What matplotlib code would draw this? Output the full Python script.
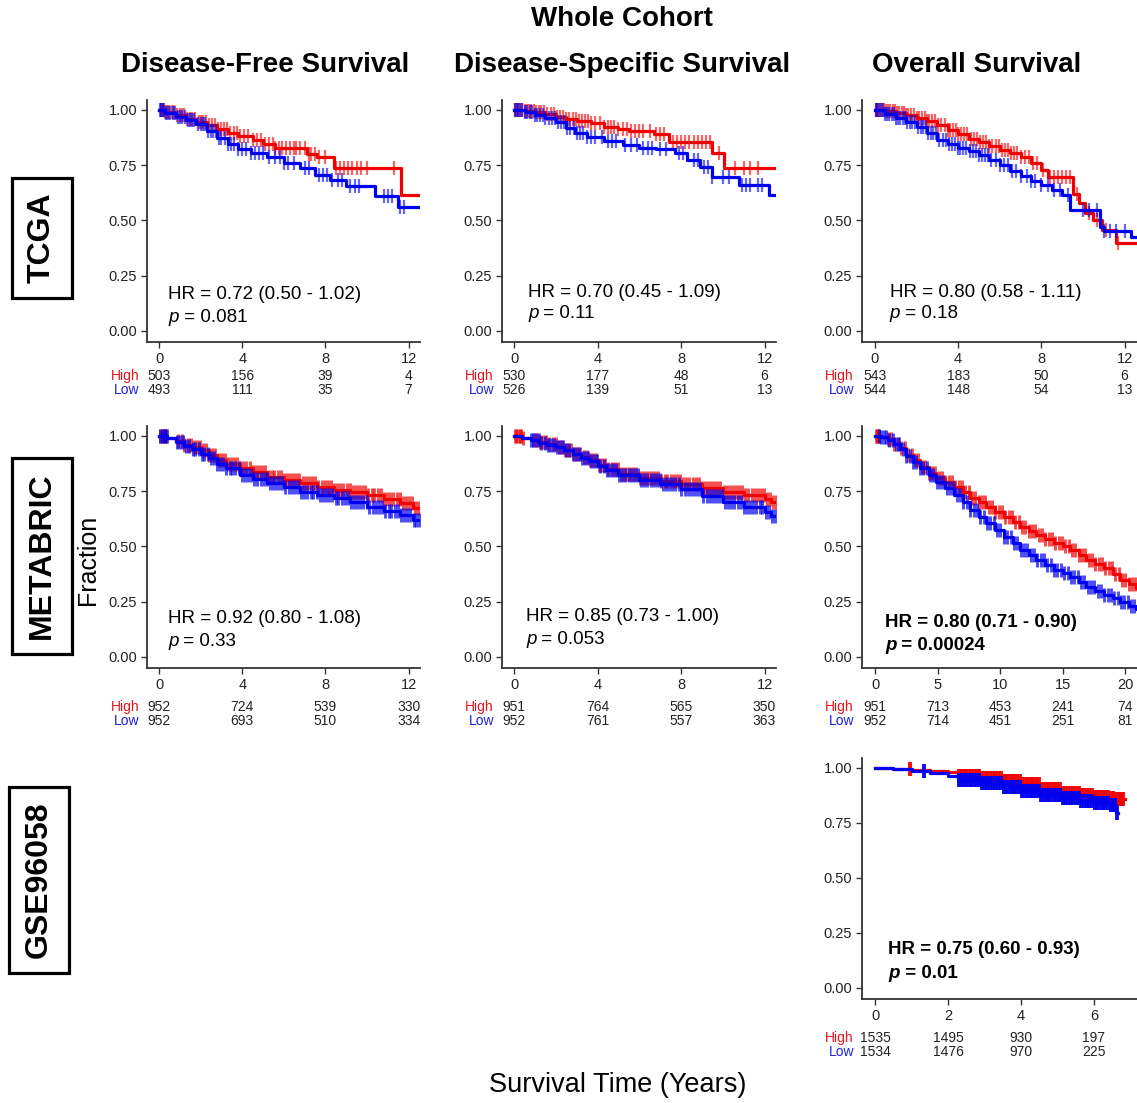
import numpy as np
import matplotlib
matplotlib.use("Agg")
import matplotlib.pyplot as plt
from matplotlib.transforms import blended_transform_factory

# ======================= DATA =======================
# ---- TCGA, Disease-Free Survival ----
tcga_dfs_high_t = [0, 0.3, 0.8, 1.3, 1.8, 2.3, 2.8, 3.3, 3.8, 4.5, 5.0, 5.6, 7.1, 7.6, 8.4, 11.65, 12.6]
tcga_dfs_high_s = [1.0, 0.99, 0.975, 0.96, 0.945, 0.93, 0.915, 0.895, 0.88, 0.865, 0.845, 0.83, 0.80, 0.785, 0.737, 0.615, 0.615]
tcga_dfs_high_c = [0.1, 0.15, 0.2, 0.3, 0.4, 0.5, 0.6, 0.7, 0.85, 1.0, 1.1, 1.2, 1.35, 1.5, 1.6, 1.75, 1.9, 2.0,
                   2.1, 2.25, 2.4, 2.55, 2.7, 2.85, 3.0, 3.1, 3.25, 3.4, 3.6, 3.75, 3.9, 4.1, 4.3, 4.5, 4.7, 4.9,
                   5.1, 5.3, 5.5, 5.6, 5.75, 5.9, 6.1, 6.3, 6.5, 6.6, 6.8, 7.0, 7.2, 7.3, 7.5, 7.7, 8.0, 8.5,
                   8.7, 8.9, 9.1, 9.3, 9.5, 9.7, 10.0, 11.3]
tcga_dfs_low_t = [0, 0.3, 0.8, 1.3, 1.8, 2.3, 2.8, 3.3, 3.8, 4.4, 5.2, 6.0, 6.8, 7.5, 8.2, 9.0, 10.4, 11.5, 12.6]
tcga_dfs_low_s = [1.0, 0.985, 0.97, 0.955, 0.935, 0.905, 0.875, 0.845, 0.825, 0.805, 0.785, 0.76, 0.737, 0.705,
                  0.685, 0.655, 0.61, 0.56, 0.56]
tcga_dfs_low_c = [0.05, 0.1, 0.2, 0.25, 0.35, 0.45, 0.55, 0.65, 0.75, 0.9, 1.0, 1.1, 1.25, 1.4, 1.5, 1.6, 1.7,
                  1.85, 2.0, 2.1, 2.2, 2.35, 2.5, 2.6, 2.75, 2.9, 3.0, 3.15, 3.3, 3.45, 3.6, 3.8, 4.0, 4.2, 4.4,
                  4.6, 4.8, 5.0, 5.3, 5.6, 5.8, 6.0, 6.2, 6.5, 7.0, 7.2, 7.7, 7.9, 8.1, 8.3, 8.6, 8.8, 9.2, 9.4,
                  9.6, 10.8, 11.0, 11.2, 11.6, 11.8]

# ---- TCGA, Disease-Specific Survival ----
tcga_dss_high_t = [0, 0.5, 1.0, 1.5, 2.0, 2.5, 3.0, 3.7, 4.3, 5.0, 5.5, 6.7, 7.4, 9.5, 10.05, 12.55]
tcga_dss_high_s = [1.0, 0.995, 0.99, 0.98, 0.97, 0.96, 0.95, 0.94, 0.924, 0.912, 0.905, 0.89, 0.857, 0.804, 0.736, 0.736]
tcga_dss_high_c = [0.05, 0.1, 0.2, 0.3, 0.4, 0.5, 0.6, 0.7, 0.8, 0.95, 1.05, 1.2, 1.3, 1.45, 1.6, 1.75, 1.9,
                   2.05, 2.2, 2.35, 2.5, 2.65, 2.8, 2.95, 3.1, 3.25, 3.4, 3.55, 3.7, 3.9, 4.1, 4.3, 4.5, 4.65,
                   4.8, 5.0, 5.2, 5.4, 5.6, 5.8, 6.0, 6.2, 6.5, 6.8, 7.0, 7.2, 7.6, 7.8, 8.0, 8.2, 8.4, 8.6,
                   8.8, 9.0, 9.2, 9.4, 9.8, 10.6, 11.0, 11.3, 11.7]
tcga_dss_low_t = [0, 0.5, 1.0, 1.5, 2.0, 2.5, 2.9, 3.5, 4.3, 5.2, 6.0, 6.8, 7.7, 8.3, 8.9, 9.5, 10.8, 12.2, 12.55]
tcga_dss_low_s = [1.0, 0.99, 0.975, 0.965, 0.945, 0.92, 0.895, 0.879, 0.86, 0.84, 0.83, 0.822, 0.804, 0.774,
                  0.743, 0.698, 0.66, 0.615, 0.615]
tcga_dss_low_c = [0.05, 0.15, 0.2, 0.3, 0.4, 0.5, 0.6, 0.75, 0.85, 1.0, 1.1, 1.25, 1.4, 1.5, 1.65, 1.8, 1.95,
                  2.1, 2.25, 2.4, 2.55, 2.7, 2.85, 3.0, 3.15, 3.3, 3.5, 3.7, 3.9, 4.2, 4.5, 4.7, 4.9, 5.3, 5.6,
                  5.9, 6.2, 6.4, 6.6, 7.0, 7.3, 7.9, 8.1, 8.6, 8.8, 9.1, 9.3, 9.5, 10.0, 10.3, 10.9, 11.1,
                  11.3, 11.7, 11.9]

# ---- TCGA, Overall Survival ----
tcga_os_high_t = [0, 0.5, 1.0, 1.5, 2.0, 2.5, 3.0, 3.5, 4.0, 4.5, 5.0, 5.5, 6.0, 6.5, 7.0, 7.5, 8.0, 8.3, 9.5,
                  9.8, 10.1, 10.5, 10.9, 11.6, 12.8]
tcga_os_high_s = [1.0, 0.995, 0.985, 0.975, 0.965, 0.95, 0.93, 0.91, 0.89, 0.87, 0.855, 0.835, 0.82, 0.805,
                  0.785, 0.76, 0.73, 0.698, 0.62, 0.578, 0.532, 0.50, 0.457, 0.397, 0.397]
tcga_os_high_c = [0.05, 0.1, 0.15, 0.25, 0.35, 0.45, 0.55, 0.65, 0.75, 0.85, 0.95, 1.05, 1.15, 1.3, 1.4, 1.5,
                  1.6, 1.75, 1.9, 2.0, 2.1, 2.25, 2.4, 2.5, 2.6, 2.75, 2.9, 3.05, 3.2, 3.35, 3.5, 3.6, 3.75,
                  3.9, 4.0, 4.15, 4.3, 4.45, 4.6, 4.75, 4.9, 5.05, 5.2, 5.35, 5.5, 5.65, 5.8, 5.95, 6.1, 6.25,
                  6.4, 6.55, 6.7, 6.85, 7.0, 7.2, 7.4, 7.6, 7.8, 8.1, 8.4, 8.6, 8.8, 9.0, 9.2, 9.4, 9.7, 10.3,
                  10.7, 11.1, 11.7]
tcga_os_low_t = [0, 0.5, 1.0, 1.5, 2.0, 2.5, 3.0, 3.5, 4.0, 4.5, 5.0, 5.5, 6.0, 6.5, 7.0, 7.5, 8.0, 8.5, 9.0,
                 9.4, 10.8, 11.0, 12.3, 12.8]
tcga_os_low_s = [1.0, 0.98, 0.965, 0.945, 0.925, 0.895, 0.865, 0.845, 0.83, 0.812, 0.795, 0.775, 0.75, 0.725,
                 0.70, 0.68, 0.66, 0.64, 0.615, 0.548, 0.472, 0.45, 0.427, 0.427]
tcga_os_low_c = [0.05, 0.1, 0.2, 0.3, 0.4, 0.5, 0.6, 0.7, 0.8, 0.9, 1.0, 1.1, 1.2, 1.35, 1.45, 1.55, 1.7, 1.8,
                 1.95, 2.05, 2.2, 2.3, 2.45, 2.55, 2.7, 2.8, 2.95, 3.1, 3.25, 3.4, 3.55, 3.7, 3.85, 4.0, 4.1,
                 4.25, 4.4, 4.55, 4.7, 4.85, 5.0, 5.15, 5.3, 5.45, 5.6, 5.8, 6.0, 6.2, 6.4, 6.6, 6.8, 7.0, 7.3,
                 7.5, 7.7, 8.0, 8.3, 8.6, 8.9, 9.3, 10.0, 10.3, 10.7, 11.0, 11.3, 11.6, 12.0]

# ---- METABRIC, Disease-Free Survival ----
metabric_dfs_high_t = [0, 0.4, 0.8, 1.2, 1.6, 2.0, 2.4, 2.8, 3.2, 3.9, 4.5, 5.2, 6.0, 6.8, 7.6, 8.4, 9.2, 10.0,
                       10.8, 11.6, 12.2, 12.6]
metabric_dfs_high_s = [1.0, 0.99, 0.975, 0.96, 0.95, 0.937, 0.915, 0.891, 0.875, 0.854, 0.835, 0.816, 0.80,
                       0.786, 0.77, 0.756, 0.745, 0.733, 0.715, 0.695, 0.675, 0.675]
metabric_dfs_high_c = [0.05, 0.13, 0.2, 0.27, 0.34, 0.92, 1.08, 1.21, 1.37, 1.52, 1.66, 1.83, 1.97, 2.12, 2.26,
                       2.41, 2.57, 2.7, 2.86, 3.01, 3.15, 3.3, 3.46, 3.6, 3.77, 3.91, 4.06, 4.2, 4.36, 4.52,
                       4.65, 4.81, 4.96, 5.1, 5.27, 5.41, 5.55, 5.72, 5.86, 6.01, 6.17, 6.3, 6.46, 6.61, 6.75,
                       6.92, 7.06, 7.2, 7.37, 7.51, 7.66, 7.82, 7.96, 8.12, 8.27, 8.41, 8.57, 8.71, 8.87, 9.02,
                       9.16, 9.32, 9.46, 9.62, 9.77, 9.91, 10.07, 10.22, 10.36, 10.52, 10.67, 10.82, 10.97,
                       11.11, 11.27, 11.42, 11.57, 11.72, 11.86, 12.02, 12.17, 12.31, 12.46]
metabric_dfs_low_t = [0, 0.4, 0.8, 1.2, 1.6, 2.0, 2.4, 2.8, 3.2, 3.9, 4.5, 5.2, 6.0, 6.8, 7.6, 8.4, 9.2, 10.0,
                      10.8, 11.6, 12.2, 12.6]
metabric_dfs_low_s = [1.0, 0.99, 0.972, 0.955, 0.94, 0.92, 0.898, 0.875, 0.855, 0.824, 0.805, 0.786, 0.767,
                      0.748, 0.733, 0.718, 0.70, 0.68, 0.66, 0.643, 0.62, 0.62]
metabric_dfs_low_c = [0.06, 0.14, 0.22, 0.3, 0.37, 0.85, 1.01, 1.14, 1.31, 1.44, 1.61, 1.74, 1.9, 2.05, 2.18,
                      2.35, 2.48, 2.64, 2.8, 2.93, 3.09, 3.22, 3.39, 3.53, 3.67, 3.84, 3.97, 4.13, 4.29, 4.42,
                      4.59, 4.72, 4.88, 5.04, 5.17, 5.33, 5.47, 5.63, 5.79, 5.92, 6.08, 6.24, 6.37, 6.54,
                      6.67, 6.83, 6.99, 7.12, 7.29, 7.42, 7.58, 7.74, 7.87, 8.04, 8.17, 8.33, 8.49, 8.62,
                      8.79, 8.92, 9.08, 9.24, 9.37, 9.54, 9.67, 9.83, 9.99, 10.12, 10.29, 10.42, 10.58, 10.74,
                      10.87, 11.04, 11.17, 11.33, 11.49, 11.62, 11.79, 11.92, 12.08, 12.24, 12.37, 12.52]

# ---- METABRIC, Disease-Specific Survival ----
metabric_dss_high_t = [0, 0.4, 0.8, 1.2, 1.6, 2.0, 2.4, 2.8, 3.2, 3.6, 4.0, 4.4, 5.0, 6.0, 7.0, 8.0, 9.0, 10.0,
                       11.0, 12.0, 12.3, 12.6]
metabric_dss_high_s = [1.0, 0.99, 0.982, 0.972, 0.962, 0.952, 0.937, 0.92, 0.905, 0.89, 0.87, 0.85, 0.83,
                       0.808, 0.795, 0.782, 0.765, 0.748, 0.733, 0.715, 0.703, 0.703]
metabric_dss_high_c = [0.04, 0.11, 0.19, 0.26, 0.33, 0.41, 0.95, 1.1, 1.24, 1.39, 1.55, 1.68, 1.84, 1.99, 2.13,
                       2.28, 2.44, 2.58, 2.73, 2.88, 3.02, 3.18, 3.33, 3.47, 3.62, 3.78, 3.92, 4.07, 4.23,
                       4.37, 4.52, 4.67, 4.82, 4.97, 5.12, 5.26, 5.42, 5.57, 5.71, 5.86, 6.02, 6.16, 6.31,
                       6.46, 6.61, 6.76, 6.91, 7.05, 7.21, 7.35, 7.5, 7.66, 7.8, 7.95, 8.1, 8.25, 8.4, 8.55,
                       8.7, 8.85, 9.0, 9.14, 9.3, 9.44, 9.6, 9.74, 9.89, 10.04, 10.19, 10.34, 10.49, 10.63,
                       10.79, 10.93, 11.08, 11.23, 11.38, 11.53, 11.68, 11.82, 11.98, 12.12, 12.27, 12.42,
                       12.55]
metabric_dss_low_t = [0, 0.4, 0.8, 1.2, 1.6, 2.0, 2.4, 2.8, 3.2, 3.6, 4.0, 4.4, 5.0, 6.0, 7.0, 8.0, 9.0, 10.0,
                      11.0, 12.0, 12.3, 12.6]
metabric_dss_low_s = [1.0, 0.99, 0.98, 0.97, 0.96, 0.95, 0.935, 0.918, 0.902, 0.885, 0.865, 0.845, 0.825, 0.80,
                      0.782, 0.758, 0.73, 0.703, 0.68, 0.657, 0.64, 0.64]
metabric_dss_low_c = [0.8, 0.9, 1.03, 1.17, 1.31, 1.46, 1.61, 1.76, 1.9, 2.06, 2.2, 2.35, 2.5, 2.65, 2.8,
                      2.95, 3.09, 3.25, 3.39, 3.54, 3.7, 3.84, 3.99, 4.14, 4.29, 4.44, 4.59, 4.74, 4.89, 5.04,
                      5.19, 5.33, 5.49, 5.63, 5.79, 5.94, 6.08, 6.24, 6.38, 6.54, 6.68, 6.84, 6.98, 7.13,
                      7.28, 7.43, 7.58, 7.73, 7.88, 8.02, 8.18, 8.32, 8.48, 8.62, 8.78, 8.92, 9.07, 9.22,
                      9.37, 9.52, 9.67, 9.82, 9.97, 10.11, 10.27, 10.41, 10.56, 10.71, 10.86, 11.01, 11.16,
                      11.31, 11.46, 11.6, 11.76, 11.9, 12.06, 12.2, 12.35, 12.5]

# ---- METABRIC, Overall Survival ----
metabric_os_high_t = [0, 0.5, 1.0, 1.5, 2.0, 2.5, 3.0, 3.6, 4.3, 4.9, 5.6, 6.3, 7.0, 7.6, 8.3, 8.9, 9.6, 10.3,
                      11.0, 11.6, 12.3, 12.9, 13.6, 14.3, 15.0, 15.6, 16.3, 16.9, 17.6, 18.3, 19.0, 19.6,
                      20.3, 20.9, 21.5]
metabric_os_high_s = [1.0, 0.995, 0.985, 0.965, 0.945, 0.915, 0.89, 0.86, 0.832, 0.808, 0.79, 0.77, 0.745,
                      0.718, 0.70, 0.68, 0.657, 0.635, 0.612, 0.59, 0.57, 0.552, 0.533, 0.514, 0.50, 0.484,
                      0.462, 0.439, 0.42, 0.401, 0.375, 0.348, 0.33, 0.312, 0.312]
metabric_os_high_c = [0.05, 0.12, 0.2, 0.28, 1.0, 1.3, 1.55, 1.85, 2.1, 2.4, 2.65, 2.95, 3.2, 3.45, 3.75, 4.0,
                      4.3, 4.55, 4.8, 5.1, 5.35, 5.6, 5.9, 6.15, 6.4, 6.7, 6.95, 7.2, 7.5, 7.75, 8.0, 8.3,
                      8.55, 8.8, 9.1, 9.35, 9.6, 9.9, 10.15, 10.4, 10.7, 10.95, 11.2, 11.5, 11.75, 12.0, 12.3,
                      12.55, 12.8, 13.1, 13.35, 13.6, 13.9, 14.15, 14.4, 14.7, 14.95, 15.2, 15.5, 15.75, 16.0,
                      16.3, 16.55, 16.8, 17.1, 17.35, 17.6, 17.9, 18.15, 18.4, 18.7, 18.95, 19.2, 19.5,
                      19.75, 20.0, 20.3, 20.55, 20.8, 21.1]
metabric_os_low_t = [0, 0.5, 1.0, 1.5, 2.0, 2.5, 3.0, 3.6, 4.3, 4.9, 5.6, 6.3, 7.0, 7.6, 8.3, 8.9, 9.6, 10.3,
                     11.0, 11.6, 12.3, 12.9, 13.6, 14.3, 15.0, 15.6, 16.3, 16.9, 17.6, 18.3, 19.0, 19.6,
                     20.3, 20.9, 21.5]
metabric_os_low_s = [1.0, 0.995, 0.983, 0.962, 0.94, 0.91, 0.882, 0.853, 0.822, 0.793, 0.763, 0.733, 0.70,
                     0.665, 0.635, 0.605, 0.575, 0.544, 0.514, 0.484, 0.462, 0.439, 0.417, 0.394, 0.378,
                     0.363, 0.34, 0.318, 0.30, 0.281, 0.265, 0.25, 0.232, 0.215, 0.215]
metabric_os_low_c = [0.3, 0.5, 0.7, 0.9, 1.15, 1.4, 1.7, 1.95, 2.25, 2.5, 2.8, 3.05, 3.3, 3.6, 3.85, 4.15,
                     4.4, 4.65, 4.95, 5.2, 5.45, 5.75, 6.0, 6.25, 6.55, 6.8, 7.05, 7.35, 7.6, 7.9, 8.15, 8.4,
                     8.7, 8.95, 9.2, 9.5, 9.75, 10.0, 10.3, 10.55, 10.85, 11.1, 11.35, 11.65, 11.9, 12.15,
                     12.45, 12.7, 12.95, 13.25, 13.5, 13.75, 14.05, 14.3, 14.55, 14.85, 15.1, 15.4, 15.65,
                     15.9, 16.2, 16.45, 16.7, 17.0, 17.25, 17.5, 17.8, 18.05, 18.3, 18.6, 18.85, 19.1, 19.4,
                     19.65, 19.9, 20.2, 20.45, 20.7, 21.0]

# ---- GSE96058, Overall Survival ----
gse_os_high_t = [0, 0.5, 1.0, 1.5, 2.0, 2.28, 2.9, 3.5, 4.0, 4.5, 5.07, 5.6, 6.0, 6.44, 6.6, 6.85]
gse_os_high_s = [1.0, 0.997, 0.992, 0.987, 0.982, 0.964, 0.955, 0.94, 0.925, 0.905, 0.885, 0.875, 0.868,
                 0.862, 0.86, 0.86]
gse_os_high_c = [0.96, 2.29, 2.36, 2.43, 2.5, 2.57, 2.64, 2.72, 2.79, 2.86, 2.94, 3.01, 3.08, 3.16, 3.23, 3.3,
                 3.38, 3.45, 3.52, 3.6, 3.67, 3.74, 3.82, 3.89, 3.96, 4.04, 4.11, 4.18, 4.26, 4.33, 4.4,
                 4.48, 4.55, 4.62, 4.7, 4.77, 4.84, 4.92, 4.99, 5.06, 5.14, 5.21, 5.28, 5.36, 5.43, 5.5,
                 5.58, 5.65, 5.72, 5.8, 5.87, 5.94, 6.02, 6.09, 6.16, 6.24, 6.31, 6.38, 6.46, 6.53, 6.6,
                 6.68, 6.75, 6.8]
gse_os_low_t = [0, 0.5, 1.0, 1.5, 2.0, 2.28, 2.9, 3.5, 4.0, 4.5, 5.07, 5.6, 6.0, 6.44, 6.6, 6.66]
gse_os_low_s = [1.0, 0.995, 0.988, 0.978, 0.965, 0.946, 0.93, 0.912, 0.895, 0.878, 0.862, 0.85, 0.84, 0.83,
                0.795, 0.795]
gse_os_low_c = [1.35, 2.29, 2.36, 2.43, 2.5, 2.57, 2.64, 2.72, 2.79, 2.86, 2.94, 3.01, 3.08, 3.16, 3.23, 3.3,
                3.38, 3.45, 3.52, 3.6, 3.67, 3.74, 3.82, 3.89, 3.96, 4.04, 4.11, 4.18, 4.26, 4.33, 4.4,
                4.48, 4.55, 4.62, 4.7, 4.77, 4.84, 4.92, 4.99, 5.06, 5.14, 5.21, 5.28, 5.36, 5.43, 5.5,
                5.58, 5.65, 5.72, 5.8, 5.87, 5.94, 6.02, 6.09, 6.16, 6.24, 6.31, 6.38, 6.46, 6.53, 6.58,
                6.62]

# ---- numbers at risk ----
ticks_12 = [0, 4, 8, 12]
ticks_20 = [0, 5, 10, 15, 20]
ticks_6 = [0, 2, 4, 6]
tcga_dfs_risk_high = [503, 156, 39, 4]
tcga_dfs_risk_low = [493, 111, 35, 7]
tcga_dss_risk_high = [530, 177, 48, 6]
tcga_dss_risk_low = [526, 139, 51, 13]
tcga_os_risk_high = [543, 183, 50, 6]
tcga_os_risk_low = [544, 148, 54, 13]
metabric_dfs_risk_high = [952, 724, 539, 330]
metabric_dfs_risk_low = [952, 693, 510, 334]
metabric_dss_risk_high = [951, 764, 565, 350]
metabric_dss_risk_low = [952, 761, 557, 363]
metabric_os_risk_high = [951, 713, 453, 241, 74]
metabric_os_risk_low = [952, 714, 451, 251, 81]
gse_os_risk_high = [1535, 1495, 930, 197]
gse_os_risk_low = [1534, 1476, 970, 225]

# ---- annotations ----
hr_texts = ["HR = 0.72 (0.50 - 1.02)", "HR = 0.70 (0.45 - 1.09)", "HR = 0.80 (0.58 - 1.11)",
            "HR = 0.92 (0.80 - 1.08)", "HR = 0.85 (0.73 - 1.00)", "HR = 0.80 (0.71 - 0.90)",
            "HR = 0.75 (0.60 - 0.93)"]
p_texts = ["0.081", "0.11", "0.18", "0.33", "0.053", "0.00024", "0.01"]
column_titles = ["Disease-Free Survival", "Disease-Specific Survival", "Overall Survival"]
row_titles = ["TCGA", "METABRIC", "GSE96058"]
yticks = [0.0, 0.25, 0.5, 0.75, 1.0]
ytick_labels = ["0.00", "0.25", "0.50", "0.75", "1.00"]

# ======================= PLOT =======================
plt.rcParams['font.family'] = ['Liberation Sans', 'DejaVu Sans']

W, H = 1137, 1103
fig = plt.figure(figsize=(W / 100, H / 100), dpi=100)


def px_rect(l, t, r, b):
    return [l / W, 1 - b / H, (r - l) / W, (b - t) / H]


RED = '#F00000'
BLUE = '#0000F0'
DARK = '#333333'


def km(ax, t, s, c, color, z, ms, mew, alpha):
    t = np.asarray(t, float)
    s = np.asarray(s, float)
    c = np.asarray(c, float)
    idx = np.clip(np.searchsorted(t, c, side='right') - 1, 0, len(s) - 1)
    ax.plot(c, s[idx], ls='none', marker='|', ms=ms, mew=mew, color=color, alpha=alpha, zorder=z)
    ax.step(t, s, where='post', color=color, lw=2.3, zorder=z + 0.2)


panels = [
    dict(rect=(147, 100, 420, 342), xlim=(-0.58, 12.55), xt=ticks_12,
         hi=(tcga_dfs_high_t, tcga_dfs_high_s, tcga_dfs_high_c), lo=(tcga_dfs_low_t, tcga_dfs_low_s, tcga_dfs_low_c),
         rh=tcga_dfs_risk_high, rl=tcga_dfs_risk_low, txt=(0.45, 0.163, 0.059), bold=False, roff=(34, 48),
         ms=9.5, mew=1.6, alpha=0.6),
    dict(rect=(502, 100, 776, 342), xlim=(-0.58, 12.55), xt=ticks_12,
         hi=(tcga_dss_high_t, tcga_dss_high_s, tcga_dss_high_c), lo=(tcga_dss_low_t, tcga_dss_low_s, tcga_dss_low_c),
         rh=tcga_dss_risk_high, rl=tcga_dss_risk_low, txt=(0.67, 0.176, 0.077), bold=False, roff=(34, 48),
         ms=9.5, mew=1.6, alpha=0.6),
    dict(rect=(862, 100, 1137, 342), xlim=(-0.62, 12.6), xt=ticks_12,
         hi=(tcga_os_high_t, tcga_os_high_s, tcga_os_high_c), lo=(tcga_os_low_t, tcga_os_low_s, tcga_os_low_c),
         rh=tcga_os_risk_high, rl=tcga_os_risk_low, txt=(0.72, 0.176, 0.077), bold=False, roff=(34, 48),
         ms=9.5, mew=1.6, alpha=0.6),
    dict(rect=(147, 426, 420, 668), xlim=(-0.58, 12.55), xt=ticks_12,
         hi=(metabric_dfs_high_t, metabric_dfs_high_s, metabric_dfs_high_c),
         lo=(metabric_dfs_low_t, metabric_dfs_low_s, metabric_dfs_low_c),
         rh=metabric_dfs_risk_high, rl=metabric_dfs_risk_low, txt=(0.43, 0.176, 0.072), bold=False, roff=(39, 53),
         ms=9.5, mew=2.1, alpha=0.7),
    dict(rect=(502, 426, 776, 668), xlim=(-0.58, 12.55), xt=ticks_12,
         hi=(metabric_dss_high_t, metabric_dss_high_s, metabric_dss_high_c),
         lo=(metabric_dss_low_t, metabric_dss_low_s, metabric_dss_low_c),
         rh=metabric_dss_risk_high, rl=metabric_dss_risk_low, txt=(0.57, 0.181, 0.077), bold=False, roff=(39, 53),
         ms=9.5, mew=2.1, alpha=0.7),
    dict(rect=(862, 426, 1137, 668), xlim=(-1.04, 20.96), xt=ticks_20,
         hi=(metabric_os_high_t, metabric_os_high_s, metabric_os_high_c),
         lo=(metabric_os_low_t, metabric_os_low_s, metabric_os_low_c),
         rh=metabric_os_risk_high, rl=metabric_os_risk_low, txt=(0.8, 0.158, 0.054), bold=True, roff=(39, 53),
         ms=9.5, mew=2.1, alpha=0.7),
    dict(rect=(862, 758, 1137, 999), xlim=(-0.36, 7.18), xt=ticks_6,
         hi=(gse_os_high_t, gse_os_high_s, gse_os_high_c), lo=(gse_os_low_t, gse_os_low_s, gse_os_low_c),
         rh=gse_os_risk_high, rl=gse_os_risk_low, txt=(0.36, 0.173, 0.068), bold=True, roff=(39, 53),
         ms=10.5, mew=2.8, alpha=0.95),
]

for i, p in enumerate(panels):
    l, t, r, b = p['rect']
    ax = fig.add_axes(px_rect(l, t, r, b))
    ax.set_facecolor('none')
    km(ax, *p['hi'], RED, 2, p['ms'], p['mew'], p['alpha'])
    km(ax, *p['lo'], BLUE, 3, p['ms'], p['mew'], p['alpha'])
    ax.set_xlim(*p['xlim'])
    ax.set_ylim(-0.05, 1.045)
    ax.set_xticks(p['xt'])
    ax.set_yticks(yticks)
    ax.set_yticklabels(ytick_labels)
    for sp in ['top', 'right']:
        ax.spines[sp].set_visible(False)
    for sp in ['left', 'bottom']:
        ax.spines[sp].set_color(DARK)
        ax.spines[sp].set_linewidth(1.3)
    ax.tick_params(direction='out', length=4, width=1.0, color=DARK, labelsize=10.5,
                   labelcolor='#222222', pad=3)

    weight = 'bold' if p['bold'] else 'normal'
    x0, yhr, yp = p['txt']
    ax.text(x0, yhr, hr_texts[i], fontsize=13.5, weight=weight, color='black', ha='left', va='center')
    tp = ax.text(x0, yp, 'p', fontsize=13.5, weight=weight, style='italic', ha='left', va='center')
    ax.annotate(' = ' + p_texts[i], xy=(1, 0), xycoords=tp, fontsize=13.5, weight=weight,
                ha='left', va='bottom')

    hpx = b - t
    trans = blended_transform_factory(ax.transData, ax.transAxes)
    yh = -p['roff'][0] / hpx
    yl = -p['roff'][1] / hpx
    for xv, nh, nl in zip(p['xt'], p['rh'], p['rl']):
        ax.text(xv, yh, str(nh), transform=trans, ha='center', va='center', fontsize=10,
                color='#222222', clip_on=False)
        ax.text(xv, yl, str(nl), transform=trans, ha='center', va='center', fontsize=10,
                color='#222222', clip_on=False)
    xlab = -8 / (r - l)
    ax.text(xlab, yh, 'High', transform=ax.transAxes, ha='right', va='center', fontsize=10,
            color='#E8141B', clip_on=False)
    ax.text(xlab, yl, 'Low', transform=ax.transAxes, ha='right', va='center', fontsize=10,
            color='#2020E0', clip_on=False)

fig.text(622 / W, 1 - 19 / H, 'Whole Cohort', ha='center', va='center', fontsize=20, weight='bold')
for x, title in zip([265, 622, 977], column_titles):
    fig.text(x / W, 1 - 65 / H, title, ha='center', va='center', fontsize=20, weight='bold')

for (x, y), title in zip([(42, 238), (42, 556), (39, 880)], row_titles):
    fig.text(x / W, 1 - y / H, title, rotation=90, ha='center', va='center', fontsize=23,
             weight='bold', bbox=dict(boxstyle='square,pad=0.47', fc='white', ec='black', lw=2.3))

fig.text(88 / W, 1 - 560 / H, 'Fraction', rotation=90, ha='center', va='center', fontsize=18)
fig.text(618 / W, 1 - 1085 / H, 'Survival Time (Years)', ha='center', va='center', fontsize=19.5)

fig.savefig('out.png', dpi=100)
